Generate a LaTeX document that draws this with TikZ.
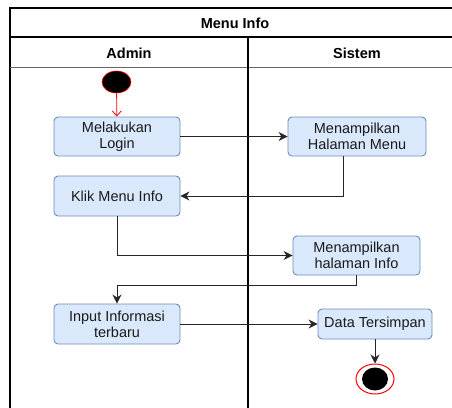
\documentclass[tikz,border=0pt]{standalone}
\usepackage{fontspec}
\setmainfont{Liberation Sans}
\usetikzlibrary{arrows.meta,shapes.geometric}
\definecolor{actfill}{HTML}{DAE8FC}
\definecolor{actline}{HTML}{6C8EBF}
\definecolor{txt}{HTML}{1A1A1A}
\tikzset{
  act/.style={draw=actline, fill=actfill, rounded corners=4pt, line width=0.9pt,
    text=txt, font=\fontsize{14.5}{16}\selectfont, align=center, inner sep=0pt},
  flow/.style={draw=black!85, line width=1pt, -{Stealth[length=9pt,width=9pt]}},
  lane/.style={line width=1.7pt, black},
  hdr/.style={font=\bfseries\fontsize{14.5}{16}\selectfont}
}
\begin{document}
\begin{tikzpicture}[x=1pt,y=-1pt]
\useasboundingbox (0,0) rectangle (452,407);
\clip (0,0) rectangle (452,407);
% swimlane frame
\draw[lane] (10,420) -- (10,8) -- (470,8);
\draw[lane] (10,37) -- (470,37);
\draw[black!60, line width=0.6pt] (10,67) -- (470,67);
\draw[lane] (248,37) -- (248,420);
\node[hdr] (title) at (235,23) {Menu Info};
\node[hdr] (admin) at (129,53) {Admin};
\node[hdr] (sistem) at (357,53) {Sistem};
% activities
\node[act, minimum width=126pt, minimum height=39pt] (login) at (117,136.5) {Melakukan\\Login};
\node[act, minimum width=138pt, minimum height=39pt] (menu) at (357,136.5) {Menampilkan\\Halaman Menu};
\node[act, minimum width=126pt, minimum height=40pt] (klik) at (117,196) {Klik Menu Info};
\node[act, minimum width=127pt, minimum height=39pt] (info) at (356.5,255.5) {Menampilkan\\halaman Info};
\node[act, minimum width=126pt, minimum height=40pt] (input) at (117,324) {Input Informasi\\terbaru};
\node[act, minimum width=114pt, minimum height=30pt] (data) at (375,324) {Data Tersimpan};
% initial and final states
\node[ellipse, draw=red, fill=black, line width=0.6pt, minimum width=29pt, minimum height=22pt, inner sep=0pt] (start) at (116.5,82) {};
\node[ellipse, draw=red, fill=white, line width=1pt, minimum width=38pt, minimum height=30pt, inner sep=0pt] (end) at (375,379) {};
\node[ellipse, fill=black, minimum width=26pt, minimum height=23pt, inner sep=0pt] (endcore) at (375,379) {};
% flows
\draw[red, line width=0.8pt, -{Straight Barb[length=5pt,width=9pt]}] (start) -- (login);
\draw[flow] (login) -- (menu);
\draw[flow] ([xshift=-14pt]menu.south) |- (klik.east);
\draw[flow] (info.south) -- ++(0,10) -| (input.north);
\draw[flow] (klik.south) |- (info.west);
\draw[flow] (input) -- (data);
\draw[flow] (data) -- (end);
\end{tikzpicture}
\end{document}
